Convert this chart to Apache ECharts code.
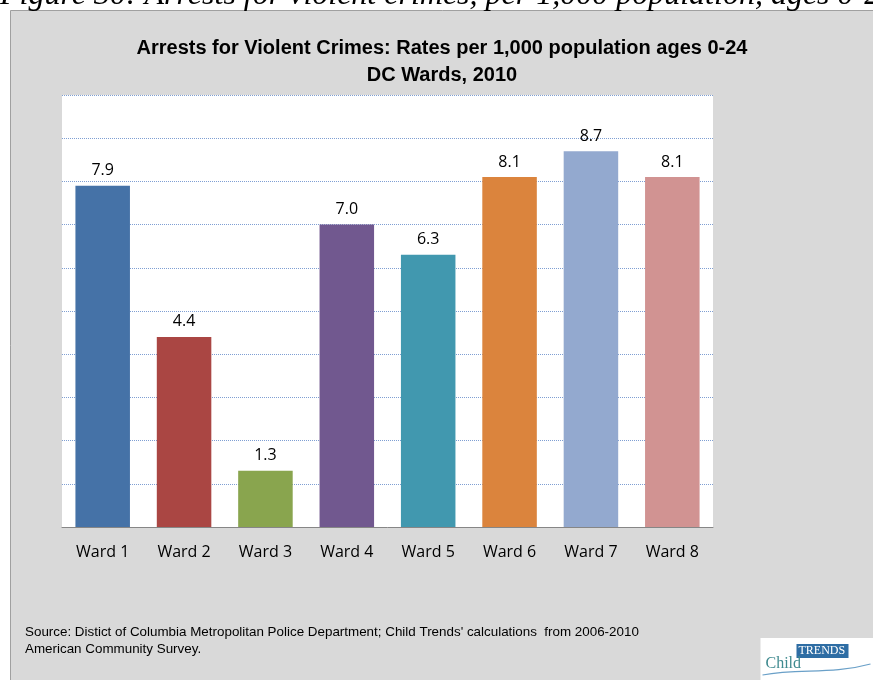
<!DOCTYPE html>
<html>
<head>
<meta charset="utf-8">
<script src="https://cdn.jsdelivr.net/npm/echarts@6/dist/echarts.min.js"></script>
<style>
  html, body { margin: 0; padding: 0; background: #ffffff; }
  #chart { width: 873px; height: 680px; }
</style>
</head>
<body>
<div id="chart"></div>
<script>
// Arrest rates per 1,000 population ages 0-24, by DC ward (2010)
const wards = ['Ward 1', 'Ward 2', 'Ward 3', 'Ward 4', 'Ward 5', 'Ward 6', 'Ward 7', 'Ward 8'];
const arrestRates = [7.9, 4.4, 1.3, 7.0, 6.3, 8.1, 8.7, 8.1];
const wardColors = ['#4572a7', '#aa4643', '#89a54e', '#71588f', '#4198af', '#db843d', '#93a9cf', '#d19392'];

const titleFont = '"Liberation Sans Narrow", "Arial Narrow", "Liberation Sans", sans-serif';
const labelFont = '"Open Sans", "DejaVu Sans", sans-serif';

const chart = echarts.init(document.getElementById('chart'), null, { renderer: 'canvas' });

chart.setOption({
  backgroundColor: '#ffffff',
  animation: false,
  graphic: [
    {
      type: 'rect', z: -10, silent: true,
      shape: { x: 10.5, y: 10.5, width: 880, height: 700 },
      style: { fill: '#d9d9d9', stroke: '#a0a0a0', lineWidth: 1 }
    },
    {
      type: 'rect', z: -5, silent: true,
      shape: { x: 62, y: 95, width: 651, height: 432 },
      style: { fill: '#ffffff' }
    },
    {
      type: 'text', silent: true, x: 0, y: 12,
      style: {
        text: 'Figure 30: Arrests for violent crimes, per 1,000 population, ages 0-24',
        font: 'italic 32px "Liberation Serif", "Times New Roman", serif',
        verticalAlign: 'bottom',
        fill: '#000000'
      }
    },
    {
      type: 'text', silent: true, left: 25, top: 624,
      style: {
        text: "Source: Distict of Columbia Metropolitan Police Department; Child Trends' calculations  from 2006-2010\nAmerican Community Survey.",
        font: '13.4px ' + titleFont,
        lineHeight: 17,
        fill: '#000000'
      }
    },
    // Child Trends logo
    {
      type: 'group', left: 760, top: 638, silent: true,
      children: [
        { type: 'rect', shape: { x: 0, y: 0, width: 113, height: 42 }, style: { fill: '#ffffff' } },
        { type: 'rect', shape: { x: 36, y: 6, width: 52, height: 14 }, style: { fill: '#2e6da4' } },
        { type: 'text', x: 38, y: 7, style: { text: 'TRENDS', font: '12px "Liberation Serif", serif', fill: '#ffffff' } },
        { type: 'text', x: 5, y: 18, style: { text: 'Child', font: '16px "Liberation Serif", serif', fill: '#3f8a8f' } },
        { type: 'bezierCurve', shape: { x1: 2, y1: 37, x2: 110, y2: 26, cpx1: 40, cpy1: 30, cpx2: 70, cpy2: 37 },
          style: { stroke: '#6aa0c8', lineWidth: 1.2, fill: null } }
      ]
    }
  ],
  title: {
    text: 'Arrests for Violent Crimes: Rates per 1,000 population ages 0-24\nDC Wards, 2010',
    left: 437, top: 30, textAlign: 'center',
    textStyle: {
      fontFamily: titleFont, fontWeight: 'bold', fontSize: 20,
      lineHeight: 27, color: '#000000'
    }
  },
  grid: { left: 62, right: 160, top: 95, bottom: 153, containLabel: false },
  xAxis: {
    type: 'category',
    data: wards,
    axisLine: { show: true, lineStyle: { color: '#868686', width: 1 } },
    axisTick: { show: false },
    axisLabel: { color: '#000000', fontSize: 16, fontFamily: labelFont, margin: 17 }
  },
  yAxis: {
    type: 'value',
    min: 0, max: 10, interval: 1,
    axisLine: { show: false },
    axisTick: { show: false },
    axisLabel: { show: false },
    splitLine: { show: true, lineStyle: { color: '#7f9fd3', type: 'dotted', width: 1 } }
  },
  series: [{
    type: 'bar',
    data: arrestRates.map((v, i) => ({ value: v, itemStyle: { color: wardColors[i] } })),
    barCategoryGap: '33%',
    label: {
      show: true, position: 'top', distance: 7,
      formatter: p => p.value.toFixed(1),
      color: '#000000', fontSize: 16, fontFamily: labelFont
    }
  }]
});
</script>
</body>
</html>
